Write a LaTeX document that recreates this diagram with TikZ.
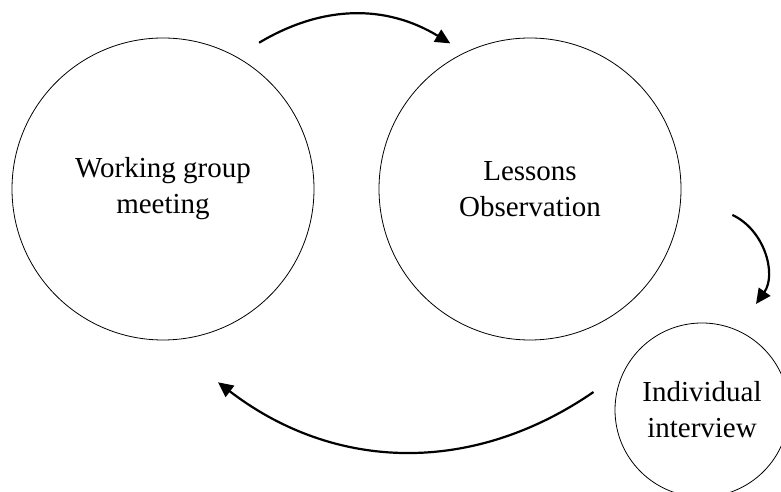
\documentclass[tikz,border=0pt]{standalone}
\usepackage{fontspec}
\setmainfont{Liberation Serif}
\usetikzlibrary{arrows.meta}
\tikzset{
  stage/.style={draw,circle,line width=0.8pt,inner sep=0pt,align=center,
    font=\fontsize{29}{36}\selectfont},
  flow/.style={line width=2.2pt,-{Triangle[length=15pt,width=14pt]}}
}
\begin{document}
\begin{tikzpicture}[x=1pt,y=1pt]
\useasboundingbox (0,0) rectangle (781,492);
\node[stage,minimum size=302pt] (wg) at (163,303) {Working group\\meeting};
\node[stage,minimum size=302pt] (lo) at (530,303) {Lessons\\Observation};
\node[stage,minimum size=174pt] (ii) at (702,82) {Individual\\interview};
% arrow ends, a little off the circles
\path (wg.center) ++(56.7:175) coordinate (wgout);
\path (lo.center) ++(118.7:166) coordinate (loin);
\path (lo.center) ++(-7.3:204) coordinate (loout);
\path (ii.center) ++(63:119) coordinate (iiin);
\path (ii.center) ++(170.6:110) coordinate (iiout);
\path (wg.center) ++(-74.1:201) coordinate (wgin);
\draw[flow] (wgout) to[bend left=31] (loin);
\draw[flow] (loout) to[bend left=50] (iiin);
\draw[flow] (iiout) to[bend left=36] (wgin);
\end{tikzpicture}
\end{document}
